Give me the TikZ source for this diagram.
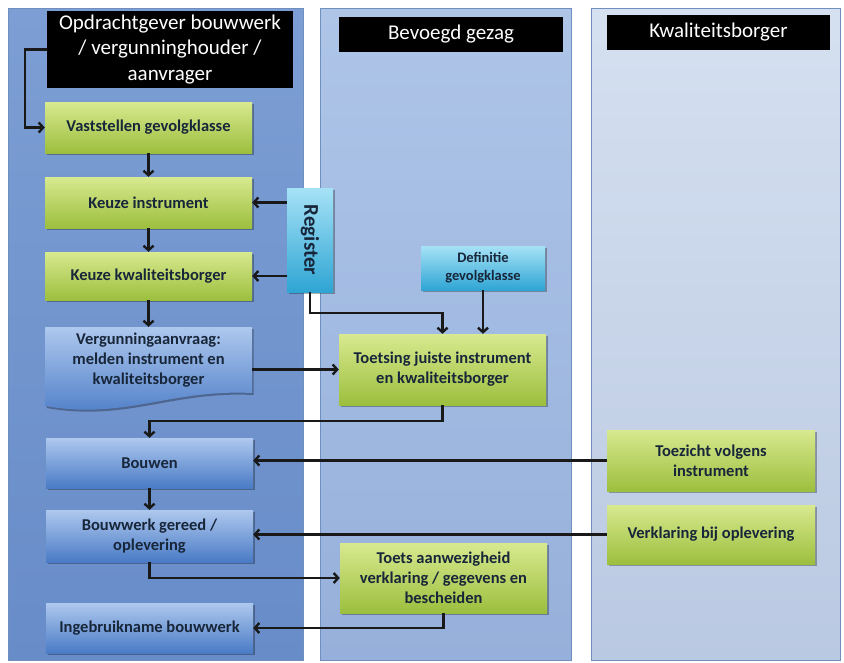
\documentclass[tikz,border=0pt]{standalone}
\usepackage{fontspec}
\setmainfont{Carlito}
\usetikzlibrary{positioning}
\usetikzlibrary{arrows.meta}
\usetikzlibrary{shadows}

\definecolor{tekst}{HTML}{18263A}
\definecolor{groenboven}{HTML}{D8E98F}
\definecolor{groenonder}{HTML}{9CBF3E}
\definecolor{blauwboven}{HTML}{AEC8EE}
\definecolor{blauwonder}{HTML}{4A7BC6}
\definecolor{cyaanboven}{HTML}{A6E2F6}
\definecolor{cyaanonder}{HTML}{2FA5D4}
\definecolor{laanrand}{HTML}{6F8FBF}
\definecolor{laanaboven}{RGB}{124,158,212}
\definecolor{laanaonder}{RGB}{104,140,200}
\definecolor{laanbboven}{RGB}{174,197,232}
\definecolor{laanbonder}{RGB}{150,176,219}
\definecolor{laancboven}{RGB}{213,224,240}
\definecolor{laanconder}{RGB}{186,201,226}

\tikzset{
  laan/.style={draw=laanrand,line width=0.6pt},
  kop/.style={fill=black,text=white,inner sep=0pt,align=center,
    font=\fontsize{21}{25.5}\selectfont},
  schaduw/.style={drop shadow={shadow xshift=1.5pt,shadow yshift=-2pt,
    opacity=0.3,fill=black}},
  vak/.style={text=tekst,inner sep=0pt,align=center,
    font=\fontsize{16.5}{20}\selectfont\bfseries},
  groen/.style={vak,schaduw,top color=groenboven,bottom color=groenonder},
  blauw/.style={vak,schaduw,top color=blauwboven,bottom color=blauwonder},
  cyaan/.style={vak,schaduw,top color=cyaanboven,bottom color=cyaanonder},
  pijl/.style={draw=black!90,line width=2.4pt,
    -{Straight Barb[length=4.5pt,width=10pt]}},
}

\begin{document}
\begin{tikzpicture}[x=1pt,y=-1pt]
  \useasboundingbox (0,0) rectangle (844,662);
  \fill[white] (0,0) rectangle (844,662);
  % lanes
  \path[laan,top color=laanaboven,bottom color=laanaonder] (8,8) rectangle (303,660);
  \path[laan,top color=laanbboven,bottom color=laanbonder] (320,8) rectangle (571,660);
  \path[laan,top color=laancboven,bottom color=laanconder] (591,8) rectangle (840,660);

  % headers
  \node[kop,minimum width=246pt,minimum height=77pt] (opdrachtgever) at (170,49.5)
    {Opdrachtgever bouwwerk\\/ vergunninghouder /\\aanvrager};
  \node[kop,minimum width=224pt,minimum height=35pt] (gezag) at (451,34.5) {Bevoegd gezag};
  \node[kop,minimum width=223pt,minimum height=35pt] (borger) at (718.5,32.5) {Kwaliteitsborger};

  % opdrachtgever
  \node[groen,minimum width=207pt,minimum height=51pt] (vaststellen) at (148.5,127.5) {Vaststellen gevolgklasse};
  \node[groen,minimum width=207pt,minimum height=51pt] (instrument) at (148.5,202.5) {Keuze instrument};
  \node[groen,minimum width=207pt,minimum height=48pt] (borgerkeuze) at (148.5,276) {Keuze kwaliteitsborger};
  \path[schaduw,top color=blauwboven,bottom color=blauwonder]
    (45,327) -- (252,327) -- (252,393)
    .. controls (170,389) and (125,420) .. (45,406) -- cycle;
  \node[vak,minimum width=207pt,minimum height=66pt] (aanvraag) at (148.5,360)
    {Vergunningaanvraag:\\melden instrument en\\kwaliteitsborger};
  \node[blauw,minimum width=207pt,minimum height=50pt] (bouwen) at (149.5,463) {Bouwen};
  \node[blauw,minimum width=207pt,minimum height=52pt] (gereed) at (149.5,536) {Bouwwerk gereed /\\oplevering};
  \node[blauw,minimum width=207pt,minimum height=50pt] (ingebruik) at (149.5,628) {Ingebruikname bouwwerk};

  % bevoegd gezag
  \node[cyaan,minimum width=46pt,minimum height=104pt,font=\fontsize{21}{25}\selectfont\bfseries]
    (register) at (310,240) {\rotatebox{-90}{Register}};
  \node[cyaan,minimum width=124pt,minimum height=44pt,font=\fontsize{14.5}{18}\selectfont\bfseries]
    (definitie) at (483,268) {Definitie\\gevolgklasse};
  \node[groen,minimum width=207pt,minimum height=71pt] (toetsing) at (442.5,369.5)
    {Toetsing juiste instrument\\en kwaliteitsborger};
  \node[groen,minimum width=207pt,minimum height=70pt] (toets) at (443.5,578)
    {Toets aanwezigheid\\verklaring / gegevens en\\bescheiden};

  % kwaliteitsborger
  \node[groen,minimum width=208pt,minimum height=61pt] (toezicht) at (711,460.5)
    {Toezicht volgens\\instrument};
  \node[groen,minimum width=208pt,minimum height=59pt] (verklaring) at (711,534.5)
    {Verklaring bij oplevering};

  % connectors
  \draw[pijl] (opdrachtgever.west) -- ++(-22,0) |- (vaststellen.west);
  \draw[pijl] (vaststellen) -- (instrument);
  \draw[pijl] (instrument) -- (borgerkeuze);
  \draw[pijl] (borgerkeuze) -- (aanvraag);
  \draw[pijl] (register.west |- instrument.east) -- (instrument.east);
  \draw[pijl] (register.west |- borgerkeuze.east) -- (borgerkeuze.east);
  \draw[pijl] (register.south) -- ++(0,21) -| (toetsing.north);
  \draw[pijl] (definitie.south) -- (definitie.south |- toetsing.north);
  \draw[pijl] (aanvraag.east |- toetsing.west) -- (toetsing.west);
  \draw[pijl] (toetsing.south) -- ++(0,16) -| (bouwen.north);
  \draw[pijl] (bouwen) -- (gereed);
  \draw[pijl] (toezicht.west) -- (bouwen.east |- toezicht.west);
  \draw[pijl] (verklaring.west) -- (gereed.east |- verklaring.west);
  \draw[pijl] (gereed.south) |- (toets.west);
  \draw[pijl] (toets.south) |- (ingebruik.east);
\end{tikzpicture}
\end{document}
